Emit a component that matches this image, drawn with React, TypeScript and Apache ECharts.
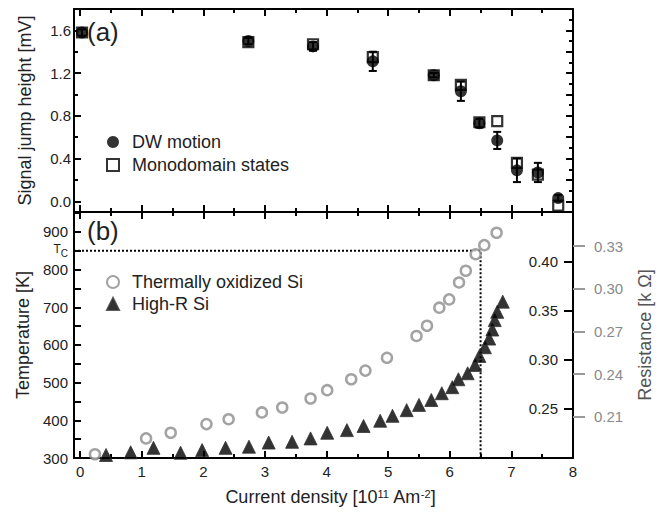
import React, { useEffect, useRef } from "react";
import * as echarts from "echarts";

// ---------- data ----------
const jumpX = [0.03, 2.73, 3.78, 4.75, 5.74, 6.18, 6.48, 6.77, 7.09, 7.43, 7.76];
const dwMotion = [1.58, 1.5, 1.45, 1.31, 1.18, 1.03, 0.73, 0.57, 0.29, 0.27, 0.03];
const dwError = [0.03, 0.03, 0.04, 0.09, 0.02, 0.09, 0.04, 0.08, 0.11, 0.09, 0.03];
const monodomain = [1.58, 1.49, 1.47, 1.35, 1.18, 1.09, 0.74, 0.75, 0.36, 0.25, -0.04];

const oxX = [0.24, 1.07, 1.47, 2.05, 2.41, 2.95, 3.28, 3.74, 4.01, 4.4, 4.63, 4.98, 5.46, 5.63, 5.83, 5.99, 6.15, 6.26, 6.42, 6.56, 6.76];
const oxT = [310, 352, 367, 390, 403, 421, 434, 458, 480, 509, 532, 566, 624, 651, 699, 721, 766, 797, 841, 865, 898];

const hrX = [0.42, 0.82, 1.19, 1.63, 1.98, 2.36, 2.74, 3.06, 3.44, 3.74, 4.01, 4.33, 4.6, 4.87, 5.07, 5.3, 5.5, 5.7, 5.87, 6.04, 6.14, 6.29, 6.41, 6.48, 6.57, 6.64, 6.69, 6.73, 6.77, 6.86];
const hrT = [308, 315, 327, 314, 321, 327, 330, 341, 343, 352, 367, 374, 385, 399, 412, 427, 441, 454, 472, 488, 509, 525, 547, 571, 594, 617, 641, 666, 688, 715];

const tcX = [-0.1, 6.5, 6.5];
const tcY = [850, 850, 300];

const xMajor = [0, 1, 2, 3, 4, 5, 6, 7, 8];
const xMinor = [0.5, 1.5, 2.5, 3.5, 4.5, 5.5, 6.5, 7.5];
const jumpLabels = [0, 0.4, 0.8, 1.2, 1.6];
const jumpMinorLeft = [0.2, 0.6, 1.0, 1.4];
const jumpMajorRight = [0, 0.2, 0.4, 0.6, 0.8, 1.0, 1.2, 1.4, 1.6];
const jumpMinorRight = [0.1, 0.3, 0.5, 0.7, 0.9, 1.1, 1.3, 1.5, 1.7];
const tempLabels = [300, 400, 500, 600, 700, 800, 850, 900];
const tempTicks = [350, 400, 450, 500, 550, 600, 650, 700, 750, 800, 850, 900, 950];
const resBlack = [0.25, 0.3, 0.35, 0.4];
const resGray = [0.21, 0.24, 0.27, 0.3, 0.33];

const FONT = "Liberation Sans, Arial, sans-serif";
const INK = "#222";

function xAx(grid: number, position: string, values: number[], length: number, line: boolean, labels = false, name = "") {
  return {
    type: "value",
    gridIndex: grid,
    position,
    min: -0.1,
    max: 8,
    name,
    nameLocation: "middle",
    nameGap: 30,
    nameTextStyle: {
      fontFamily: FONT,
      fontSize: 18,
      color: INK,
      padding: [0, 0, 0, 14],
      rich: { sup: { fontFamily: FONT, fontSize: 11, verticalAlign: "top", lineHeight: 10, color: INK } },
    },
    axisLine: { show: line, onZero: false, lineStyle: { color: "#000", width: 2 } },
    axisTick: { show: true, inside: true, length, customValues: values, lineStyle: { color: "#000", width: 2 } },
    axisLabel: {
      show: labels,
      customValues: xMajor,
      margin: 6,
      fontFamily: FONT,
      fontSize: 15,
      color: INK,
    },
    splitLine: { show: false },
  };
}

function yAx(grid: number, position: string, min: number, max: number, ticks: number[], length: number, line: boolean, extra: any = {}) {
  return {
    type: "value",
    gridIndex: grid,
    position,
    min,
    max,
    axisLine: { show: line, onZero: false, lineStyle: { color: "#000", width: 2 } },
    axisTick: { show: true, inside: true, length, customValues: ticks, lineStyle: { color: "#000", width: 2 } },
    axisLabel: { show: false },
    splitLine: { show: false },
    ...extra,
  };
}

export default function App() {
  const ref = useRef<HTMLDivElement>(null);
  useEffect(() => {
    if (!ref.current) return;
    const chart = echarts.init(ref.current, null, { renderer: "svg" });

    const errData = jumpX.map((x, i) => [x, dwMotion[i], dwError[i]]);

    const option: any = {
      animation: false,
      backgroundColor: "#fff",
      textStyle: { fontFamily: FONT },
      grid: [
        { left: 74, top: 9, width: 499, height: 203 },
        { left: 74, top: 212, width: 499, height: 246 },
      ],
      xAxis: [
        xAx(0, "bottom", xMajor, 7, true),
        xAx(0, "bottom", xMinor, 4, false),
        xAx(0, "top", xMajor, 7, true),
        xAx(0, "top", xMinor, 4, false),
        xAx(1, "bottom", xMajor, 7, true, true, "Current density [10{sup|11} Am{sup|-2}]"),
        xAx(1, "bottom", xMinor, 4, false),
        xAx(1, "top", xMajor, 7, true),
        xAx(1, "top", xMinor, 4, false),
      ],
      yAxis: [
        yAx(0, "left", -0.1, 1.8, jumpLabels, 7, true, {
          name: "Signal jump height [mV]",
          nameLocation: "middle",
          nameGap: 40,
          nameTextStyle: { fontFamily: FONT, fontSize: 18, color: INK },
          axisLabel: {
            show: true,
            customValues: jumpLabels,
            formatter: (v: number) => v.toFixed(1),
            margin: 3,
            fontFamily: FONT,
            fontSize: 15,
            color: INK,
          },
        }),
        yAx(0, "left", -0.1, 1.8, jumpMinorLeft, 4, false),
        yAx(0, "right", -0.1, 1.8, jumpMajorRight, 7, true),
        yAx(0, "right", -0.1, 1.8, jumpMinorRight, 4, false),
        yAx(1, "left", 300, 953, tempTicks, 7, true, {
          name: "Temperature [K]",
          nameLocation: "middle",
          nameGap: 41,
          nameTextStyle: { fontFamily: FONT, fontSize: 18, color: INK },
          axisLabel: {
            show: true,
            customValues: tempLabels,
            formatter: (v: number) => (v === 850 ? "{t|T}{s|C}" : String(v)),
            margin: 6,
            fontFamily: FONT,
            fontSize: 15,
            color: INK,
            rich: {
              t: { fontFamily: FONT, fontSize: 12, color: INK, verticalAlign: "top", lineHeight: 16 },
              s: { fontFamily: FONT, fontSize: 10, color: INK, verticalAlign: "bottom", lineHeight: 10 },
            },
          },
        }),
        yAx(1, "right", 0.2, 0.451, resBlack, 9, true, {
          axisLabel: {
            show: true,
            inside: true,
            customValues: resBlack,
            formatter: (v: number) => v.toFixed(2),
            margin: 15,
            fontFamily: FONT,
            fontSize: 15,
            color: INK,
          },
        }),
        {
          type: "value",
          gridIndex: 1,
          position: "right",
          min: 0.181,
          max: 0.354,
          name: "Resistance [k Ω]",
          nameLocation: "middle",
          nameGap: 63,
          nameRotate: 90,
          nameTextStyle: { fontFamily: FONT, fontSize: 18, color: "#555" },
          axisLine: { show: false, onZero: false },
          axisTick: { show: true, inside: false, length: 12, customValues: resGray, lineStyle: { color: "#999", width: 2 } },
          axisLabel: {
            show: true,
            customValues: resGray,
            formatter: (v: number) => v.toFixed(2),
            margin: 21,
            fontFamily: FONT,
            fontSize: 15,
            color: "#8a8a8a",
          },
          splitLine: { show: false },
        },
      ],
      legend: [
        {
          data: ["DW motion", "Monodomain states"],
          orient: "vertical",
          left: 101,
          top: 128,
          itemWidth: 12,
          itemHeight: 12,
          itemGap: 5,
          textStyle: { fontFamily: FONT, fontSize: 18, color: INK, padding: [0, 0, 0, 8] },
        },
        {
          data: ["Thermally oxidized Si", "High-R Si"],
          orient: "vertical",
          left: 101,
          top: 268,
          itemWidth: 12,
          itemHeight: 12,
          itemGap: 4,
          textStyle: { fontFamily: FONT, fontSize: 18, color: INK, padding: [0, 0, 0, 8] },
        },
      ],
      graphic: [
        { type: "text", left: 87, top: 19, style: { text: "(a)", fontFamily: FONT, fontSize: 26, fill: INK } },
        { type: "text", left: 87, top: 218, style: { text: "(b)", fontFamily: FONT, fontSize: 26, fill: INK } },
      ],
      series: [
        {
          name: "Monodomain states",
          type: "scatter",
          xAxisIndex: 0,
          yAxisIndex: 0,
          symbol: "rect",
          symbolSize: 10,
          itemStyle: { color: "#fff", borderColor: "#000", borderWidth: 2.2 },
          data: jumpX.map((x, i) => [x, monodomain[i]]),
          z: 3,
        },
        {
          name: "DW error",
          type: "custom",
          xAxisIndex: 0,
          yAxisIndex: 0,
          encode: { x: 0, y: 1 },
          data: errData,
          z: 4,
          renderItem: (params: any, api: any) => {
            const x = api.value(0);
            const y = api.value(1);
            const e = api.value(2);
            const top = api.coord([x, y + e]);
            const bot = api.coord([x, y - e]);
            const hw = 4;
            const st = { stroke: "#000", lineWidth: 2 };
            return {
              type: "group",
              children: [
                { type: "line", shape: { x1: top[0], y1: top[1], x2: bot[0], y2: bot[1] }, style: st },
                { type: "line", shape: { x1: top[0] - hw, y1: top[1], x2: top[0] + hw, y2: top[1] }, style: st },
                { type: "line", shape: { x1: bot[0] - hw, y1: bot[1], x2: bot[0] + hw, y2: bot[1] }, style: st },
              ],
            };
          },
        },
        {
          name: "DW motion",
          type: "scatter",
          xAxisIndex: 0,
          yAxisIndex: 0,
          symbol: "circle",
          symbolSize: 12,
          itemStyle: { color: "#000" },
          data: jumpX.map((x, i) => [x, dwMotion[i]]),
          z: 5,
        },
        {
          name: "Tc",
          type: "line",
          xAxisIndex: 4,
          yAxisIndex: 4,
          symbol: "none",
          lineStyle: { color: "#000", width: 2, type: "dotted" },
          data: tcX.map((x, i) => [x, tcY[i]]),
          z: 2,
        },
        {
          name: "Thermally oxidized Si",
          type: "scatter",
          xAxisIndex: 4,
          yAxisIndex: 4,
          symbol: "circle",
          symbolSize: 10,
          itemStyle: { color: "#fff", borderColor: "#8c8c8c", borderWidth: 2.5 },
          data: oxX.map((x, i) => [x, oxT[i]]),
          z: 3,
        },
        {
          name: "High-R Si",
          type: "scatter",
          xAxisIndex: 4,
          yAxisIndex: 4,
          symbol: "triangle",
          symbolSize: 13,
          itemStyle: { color: "#000", borderColor: "#333", borderWidth: 1 },
          data: hrX.map((x, i) => [x, hrT[i]]),
          z: 4,
        },
      ],
    };
    chart.setOption(option);
    return () => chart.dispose();
  }, []);
  return <div ref={ref} style={{ position: "fixed", left: 0, top: 0, width: 666, height: 513 }} />;
}
